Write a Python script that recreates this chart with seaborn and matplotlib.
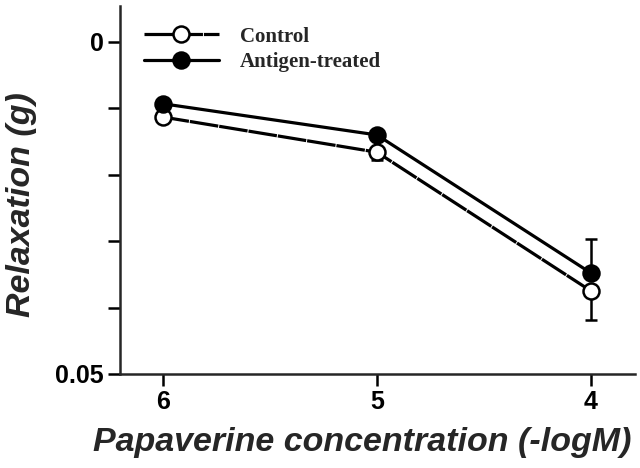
import numpy as np
import pandas as pd
import matplotlib
matplotlib.use("Agg")
import matplotlib.pyplot as plt
import seaborn as sns

# -log M papaverine
conc = [6, 5, 4]
control = [0.0113, 0.0166, 0.0375]
control_err_down = [0.0, 0.0012, 0.0044]
antigen = [0.0093, 0.0140, 0.0348]
antigen_err_up = [0.0, 0.0, 0.0051]

df = pd.DataFrame({
    "conc": conc * 2,
    "relax": control + antigen,
    "group": ["Control"] * 3 + ["Antigen-treated"] * 3,
})

sns.set_style("ticks")
plt.rcParams["font.family"] = ["Liberation Sans", "DejaVu Sans"]

fig = plt.figure(figsize=(6.4, 4.68), dpi=100)
ax = fig.add_axes([0.1875, 0.2009, 0.8045, 0.786])

# error bars (one-sided, as in the original)
ax.errorbar(conc, control, yerr=[np.zeros(3), control_err_down], fmt="none",
            ecolor="black", elinewidth=1.8, capsize=4.5, capthick=1.8, zorder=1)
ax.errorbar(conc, antigen, yerr=[antigen_err_up, np.zeros(3)], fmt="none",
            ecolor="black", elinewidth=1.8, capsize=4.5, capthick=1.8, zorder=1)

sns.lineplot(data=df[df.group == "Control"], x="conc", y="relax", ax=ax,
             color="black", lw=2.3, marker="o", ms=11.5, mfc="white",
             mec="black", mew=1.8, linestyle=(0, (9, 0.3)),
             label="Control", zorder=3)
sns.lineplot(data=df[df.group == "Antigen-treated"], x="conc", y="relax", ax=ax,
             color="black", lw=2.3, marker="o", ms=11.5, mfc="black",
             mec="black", mew=1.8, label="Antigen-treated", zorder=3)

ax.set_xlim(6.2, 3.795)
ax.set_ylim(0.05, -0.0054)
ax.set_xticks(conc)
ax.set_xticklabels(["6", "5", "4"])
ax.set_yticks([0, 0.05])
ax.set_yticklabels(["0", "0.05"])
ax.set_yticks([0.01, 0.02, 0.03, 0.04], minor=True)

for s in ["top", "right"]:
    ax.spines[s].set_visible(False)
for s in ["left", "bottom"]:
    ax.spines[s].set_linewidth(1.8)
ax.tick_params(which="both", direction="out", length=8.5, width=1.8, colors="black")
ax.tick_params(axis="both", which="major", labelsize=18, pad=3)
for lab in ax.get_xticklabels() + ax.get_yticklabels():
    lab.set_fontweight("bold")

ax.set_xlabel("Papaverine concentration (-logM)", fontsize=24.5,
              fontweight="bold", fontstyle="italic")
ax.set_ylabel("Relaxation (g)", fontsize=24.5, fontweight="bold", fontstyle="italic")
ax.xaxis.label.set_va("center")
ax.yaxis.label.set_va("center")
ax.xaxis.set_label_coords(0.47, -0.185)
ax.yaxis.set_label_coords(-0.192, 0.46)

ax.legend(loc="upper left", bbox_to_anchor=(0.018, 0.984), frameon=False,
          prop={"family": "Liberation Serif", "weight": "bold", "size": 15},
          handlelength=3.6, handletextpad=1.0, labelspacing=0.25,
          borderaxespad=0.3)

fig.savefig("out.png", dpi=100)
